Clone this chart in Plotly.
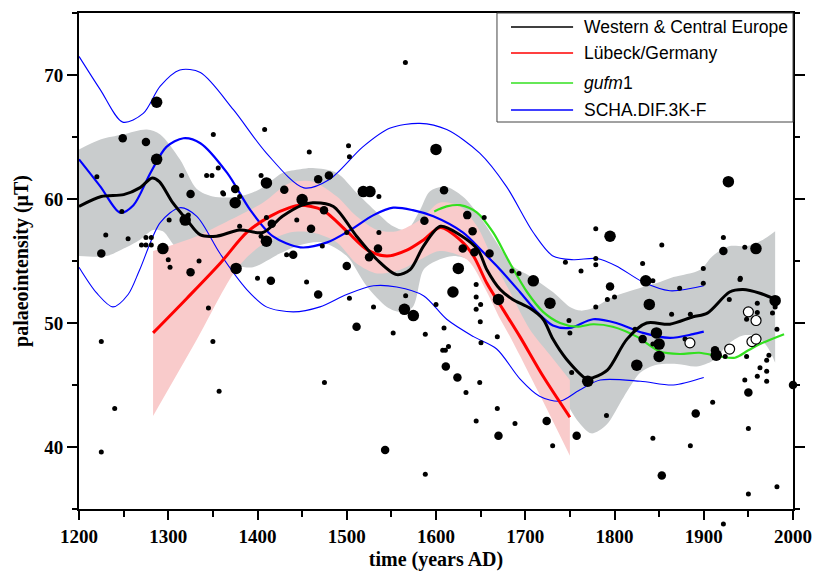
import plotly.graph_objects as go

# ---------------- data ----------------
# grey confidence band of the Western & Central Europe curve
gu_year = [1200,1224,1249,1276,1291,1313,1332,1350,1380,1403,1428,1448,1462,1489,1511,1534,1552,1567,1582,1593,1610,1630,1649,1668,1686,1705,1731,1750,1762,1776,1795,1814,1832,1851,1866,1896,1910,1929,1948,1966,1980]
gu_val = [64.0,64.8,65.2,65.6,65.2,63.2,60.8,60.2,60.2,60.8,62.1,62.4,62.5,62.1,60.5,58.9,57.8,57.5,59.1,60.6,61.0,60.2,58.6,56.5,54.6,53.8,52.5,51.3,51.0,51.2,52.0,52.5,52.9,53.3,53.7,54.3,55.4,56.2,56.2,56.7,57.4]
gl_year = [1200,1231,1250,1268,1283,1294,1310,1340,1377,1395,1425,1448,1473,1500,1522,1545,1560,1574,1586,1600,1620,1640,1660,1680,1700,1720,1740,1760,1774,1791,1810,1829,1845,1870,1892,1911,1929,1944,1960,1971,1980]
gl_val = [55.4,55.4,56.0,56.7,57.5,57.4,56.0,55.0,54.6,54.5,55.6,56.3,56.5,55.4,53.0,51.3,50.9,51.3,54.3,55.0,55.4,55.0,53.5,51.0,48.5,46.5,44.3,42.0,41.1,41.8,44.0,46.0,46.6,46.7,46.5,47.0,48.4,49.0,48.9,48.1,46.8]

# pink confidence band of the Luebeck curve
pu_year = [1283,1332,1369,1406,1436,1462,1489,1511,1534,1556,1582,1604,1627,1646,1664,1683,1705,1728,1750]
pu_val = [55.8,57.0,58.3,59.7,61.3,61.4,60.2,58.6,57.5,57.4,58.3,59.7,59.4,57.8,55.1,52.5,49.5,47.4,45.4]
pl_year = [1283,1330,1377,1403,1436,1462,1489,1511,1534,1560,1582,1604,1635,1657,1672,1683,1715,1750]
pl_val = [42.5,48.4,54.4,56.2,57.3,57.3,56.5,54.8,54.0,54.3,55.1,55.8,55.1,52.5,50.3,48.9,44.4,39.3]

# Western & Central Europe curve
wce_year = [1200,1225,1250,1268,1282,1290,1305,1321,1336,1354,1380,1406,1428,1450,1462,1485,1511,1534,1556,1571,1586,1605,1627,1647,1657,1672,1686,1705,1720,1731,1746,1769,1776,1792,1814,1836,1862,1888,1904,1929,1944,1963,1980]
wce_val = [59.4,60.2,60.35,60.9,61.7,61.4,59.7,58.3,57.1,57.0,57.5,57.3,58.6,59.5,59.7,59.4,57.0,55.1,53.9,54.3,56.2,57.8,57.1,55.9,54.3,52.7,51.9,51.2,50.3,48.7,47.1,45.5,45.6,46.2,48.7,50.0,49.9,50.5,50.8,52.5,52.7,52.4,51.9]

# Luebeck/Germany curve
lub_year = [1283,1321,1358,1388,1414,1436,1448,1473,1500,1523,1545,1568,1586,1605,1627,1642,1657,1675,1694,1720,1750]
lub_val = [49.2,52.0,54.8,57.3,58.6,59.3,59.5,59.1,57.4,55.9,55.4,55.9,56.7,57.7,56.7,55.4,53.2,51.1,48.9,45.7,42.4]

# gufm1
gufm_year = [1598,1612,1627,1646,1664,1683,1702,1720,1739,1758,1776,1798,1825,1851,1873,1895,1918,1935,1950,1966,1990]
gufm_val = [59.0,59.4,59.5,58.9,57.3,54.8,52.5,50.9,50.0,49.7,49.9,49.7,48.9,47.7,47.5,47.6,47.3,47.2,47.8,48.4,49.1]

# SCHA.DIF.3K-F (central and error envelope)
scha_year = [1200,1224,1246,1261,1280,1298,1317,1336,1366,1392,1417,1448,1478,1504,1530,1552,1574,1597,1630,1653,1672,1694,1713,1731,1750,1776,1802,1832,1862,1888,1900]
scha_val = [63.2,61.0,58.9,59.5,62.1,64.2,64.9,64.5,62.1,59.1,57.0,56.1,56.5,57.5,58.7,59.3,59.1,58.6,57.3,55.7,54.3,52.5,50.9,49.8,49.6,50.3,50.0,49.2,48.8,49.1,49.3]
scha_up_year = [1200,1224,1249,1272,1291,1313,1336,1373,1410,1452,1481,1518,1548,1582,1612,1649,1679,1709,1731,1754,1780,1802,1832,1862,1900]
scha_up_val = [71.5,68.8,66.2,66.9,69.1,70.4,70.2,67.2,63.7,60.9,61.6,64.2,65.7,66.1,65.6,63.7,61.0,57.3,55.4,55.1,55.2,54.6,53.3,52.6,53.0]
scha_lo_year = [1200,1220,1238,1255,1268,1291,1313,1332,1358,1388,1410,1440,1470,1500,1530,1556,1586,1612,1642,1668,1694,1716,1739,1761,1784,1829,1866,1900]
scha_lo_val = [54.5,52.4,51.3,52.3,54.3,58.1,59.3,58.6,55.6,52.7,51.3,50.9,51.3,52.3,53.0,52.9,52.2,50.3,48.9,47.9,45.5,44.1,43.7,44.6,45.4,45.3,45.0,45.6]

# archaeointensity data points (three symbol sizes + open circles)
small_year = [1220,1315,1343,1349,1356,1350.5,1380,1361,1408,1404,1410,1380,1404,1444,1230,1255,1248,1270,1275,1281,1275,1281,1300,1302,1334.5,1301,1322.5,1362,1345,1400,1432.6,1225,1240,1225,1350,1357,
              1565.7,1458,1502,1503,1536,1654,1500,1472.6,1536,1685,1693,1745,1455,1503,1530,1552,1566,1588,1600,1475,1588,1609,1607.5,1610.5,1614,1633.6,1645,1645,1650,1645,1649.6,1650.4,1649,1645,1668.7,1668.7,1688.5,1730.7,1750,1749,1752,
              1779,1853,1762.5,1779,1779,1831.5,1843,1873,1792,1800,1779,1864,1885,1823,1843,1879,1791,1843,1885,1910,1924,1948,1946,1950,1950,1963,1960,1970.5,1970.5,1973,1982,1982,1948,1960,1960,1980,1977,1928.6,1940.6,1899.5,1922,1946,1899.5,1941,1970.5]
small_val = [61.8,61.9,61.9,61.9,62.5,65.2,60.2,60.5,65.6,61.9,58.5,57.8,57.0,58.3,57.1,56.8,59.0,56.3,56.3,56.3,56.9,56.9,55.1,54.5,55.0,58.3,58.7,60.4,51.2,53.6,55.5,48.5,43.1,39.6,48.5,44.5,
             71.0,63.8,64.3,63.4,60.2,58.5,57.3,56.2,57.3,54.2,54.0,54.9,53.3,52.0,51.3,49.2,52.2,49.1,51.5,45.2,37.8,49.6,47.8,47.8,48.1,44.4,53.1,52.1,51.5,51.1,50.1,48.4,45.2,42.1,48.9,43.1,41.9,40.1,49.2,50.2,46.0,
             57.6,56.3,54.2,55.2,54.7,54.8,53.4,52.8,51.9,52.1,51.3,50.7,50.7,49.5,48.3,48.7,42.55,40.7,40.1,43.6,47.3,47.3,45.4,41.5,36.2,46.4,45.7,46.1,45.3,47.4,49.5,36.8,50.3,51.6,50.85,51.3,50.8,51.9,53.5,53.2,56.9,56.1,54.4,53.6,47.0]
# one small point that lies below the lower axis limit
below_year = [1922]
below_val = [33.8]

med_year = [1249,1275,1325,1375,1430,1416,1440,1225,1325,1415,1468,1480,1609,1587,1635,1641,1630,1643,1660,1460,1474.5,1535,1525,1500,1468,1511,1543,1611,1624,1670,1724,1757.6,1795,1831.5,1853,1891,1912.6,1950,2000,1922]
med_val = [64.9,64.6,60.4,60.8,60.75,58.0,55.5,55.6,54.1,53.4,61.6,61.9,60.7,58.25,58.7,57.4,56.0,55.7,55.6,57.6,59.1,56.0,55.3,54.6,52.3,49.7,39.75,46.5,45.6,40.9,42.1,40.9,52.95,48.7,37.7,42.7,47.8,44.4,45.0,55.8]

large_year = [1287,1287,1319,1375,1410,1410,1294,1376,1518.5,1526,1600,1625,1450,1564.6,1574.6,1619,1670,1727.7,1709,1795,1835,1839,1847,1850,1850,1825,1770,1914,1980,1927.6,1958.5]
large_val = [67.8,63.2,58.3,59.7,61.3,56.6,56.0,54.4,60.6,60.6,64.0,54.4,59.95,51.1,50.6,52.5,51.9,51.6,53.4,57.0,53.4,51.5,49.2,48.3,47.3,46.6,45.3,47.4,51.8,61.4,56.0]

open_year = [1884.5,1929,1954,1958.6,1950,1958.6]
open_val = [48.4,47.9,48.5,48.7,50.9,50.2]

legend_names = ["Western & Central Europe", "Lübeck/Germany", "<i>gufm</i>1", "SCHA.DIF.3K-F"]
legend_colors = ["#000000", "#ff0000", "#33e01f", "#0000ff"]

# ---------------- figure ----------------
GREY = "#c9cccd"
PINK = "#f9cbcb"
SM = 0.85
Y_RANGE = [35, 75]
fig = go.Figure()

# grey band
fig.add_trace(go.Scatter(x=gl_year, y=gl_val, mode="lines", line=dict(width=0, shape="spline", smoothing=SM, color=GREY),
                         showlegend=False, hoverinfo="skip"))
fig.add_trace(go.Scatter(x=gu_year, y=gu_val, mode="lines", line=dict(width=0, shape="spline", smoothing=SM, color=GREY),
                         fill="tonexty", fillcolor=GREY, showlegend=False, hoverinfo="skip"))
# pink band
fig.add_trace(go.Scatter(x=pl_year, y=pl_val, mode="lines", line=dict(width=0, shape="spline", smoothing=SM, color=PINK),
                         showlegend=False, hoverinfo="skip"))
fig.add_trace(go.Scatter(x=pu_year, y=pu_val, mode="lines", line=dict(width=0, shape="spline", smoothing=SM, color=PINK),
                         fill="tonexty", fillcolor=PINK, showlegend=False, hoverinfo="skip"))

# SCHA envelope
for yy, vv in ((scha_up_year, scha_up_val), (scha_lo_year, scha_lo_val)):
    fig.add_trace(go.Scatter(x=yy, y=vv, mode="lines", line=dict(width=1.1, shape="spline", smoothing=SM, color="#0000ff"),
                             showlegend=False, hoverinfo="skip"))
fig.add_trace(go.Scatter(x=scha_year, y=scha_val, mode="lines", name=legend_names[3],
                         line=dict(width=2.2, shape="spline", smoothing=SM, color="#0000ff"), showlegend=False))
fig.add_trace(go.Scatter(x=gufm_year, y=gufm_val, mode="lines", name=legend_names[2],
                         line=dict(width=2.2, shape="spline", smoothing=SM, color="#33e01f"), showlegend=False))
fig.add_trace(go.Scatter(x=lub_year, y=lub_val, mode="lines", name=legend_names[1],
                         line=dict(width=3, shape="spline", smoothing=SM, color="#ff0000"), showlegend=False))
fig.add_trace(go.Scatter(x=wce_year, y=wce_val, mode="lines", name=legend_names[0],
                         line=dict(width=3, shape="spline", smoothing=SM, color="#000000"), showlegend=False))

# data points
for xs, ys, sz in ((small_year, small_val, 5), (med_year, med_val, 8.5), (large_year, large_val, 11.5)):
    fig.add_trace(go.Scatter(x=xs, y=ys, mode="markers", marker=dict(size=sz, color="black", line=dict(width=0)),
                             cliponaxis=False, showlegend=False))
fig.add_trace(go.Scatter(x=open_year, y=open_val, mode="markers",
                         marker=dict(size=10, color="white", line=dict(width=1.2, color="black")),
                         cliponaxis=False, showlegend=False))

# geometry: the main y axis leaves a strip below it, covered by an invisible twin axis
TOP, BOTTOM_OUT, STRIP, H = 13, 40, 22, 571
paper_h = H - TOP - BOTTOM_OUT
d0 = STRIP / paper_h
px_per_unit = (paper_h - STRIP) / (Y_RANGE[1] - Y_RANGE[0])
y2_range = [Y_RANGE[0] - STRIP / px_per_unit, Y_RANGE[1]]
fig.add_trace(go.Scatter(x=below_year, y=below_val, yaxis="y2", mode="markers",
                         marker=dict(size=5, color="black", line=dict(width=0)),
                         cliponaxis=False, showlegend=False))

# hand-drawn legend box (paper coordinates)
def py_to_paper(py):
    return 1 - (py - TOP) / paper_h

fig.add_shape(type="rect", xref="paper", yref="paper", x0=0.5854, x1=1.0, y0=py_to_paper(122), y1=1.0,
              line=dict(color="#444444", width=1), fillcolor="white", layer="above")
entry_py = [27, 53, 83, 110]
for name, col, ep in zip(legend_names, legend_colors, entry_py):
    ey = py_to_paper(ep)
    fig.add_shape(type="line", xref="paper", yref="paper", x0=0.605, x1=0.692, y0=ey, y1=ey,
                  line=dict(color=col, width=1.6), layer="above")
    fig.add_annotation(xref="paper", yref="paper", x=0.7045, y=ey, text=name, showarrow=False,
                       xanchor="left", yanchor="middle",
                       font=dict(family="Liberation Sans, Arial", size=17.5, color="black"))

serif = "Liberation Serif, Times New Roman, serif"
fig.update_layout(
    width=814, height=571,
    margin=dict(l=79, r=21, t=TOP, b=BOTTOM_OUT, autoexpand=False),
    paper_bgcolor="white", plot_bgcolor="rgba(0,0,0,0)",
    showlegend=False,
    xaxis=dict(range=[1200, 2000], dtick=100, tick0=1200, showgrid=False, zeroline=False, automargin=False,
               anchor="y",
               showline=True, linecolor="black", linewidth=2, mirror=True,
               ticks="outside", ticklen=9, tickwidth=2, tickcolor="black",
               minor=dict(dtick=50, ticks="outside", ticklen=6, tickwidth=2, tickcolor="black", showgrid=False),
               tickfont=dict(family=serif, size=19, color="black", weight="bold"),
               title=dict(text="time (years AD)", standoff=6,
                          font=dict(family=serif, size=20, color="black", weight="bold"))),
    yaxis=dict(range=Y_RANGE, domain=[d0, 1], dtick=10, tick0=0, showgrid=False, zeroline=False, automargin=False,
               showline=True, linecolor="black", linewidth=2, mirror="ticks",
               ticks="outside", ticklen=10, tickwidth=2, tickcolor="black",
               minor=dict(dtick=5, ticks="outside", ticklen=5, tickwidth=2, tickcolor="black", showgrid=False),
               tickfont=dict(family=serif, size=19, color="black", weight="bold"),
               title=dict(text="palaeointensity (μT)", standoff=10,
                          font=dict(family=serif, size=20, color="black", weight="bold"))),
    yaxis2=dict(range=y2_range, domain=[0, 1], visible=False, anchor="x", showgrid=False, zeroline=False),
)

fig.write_html("out.html")
